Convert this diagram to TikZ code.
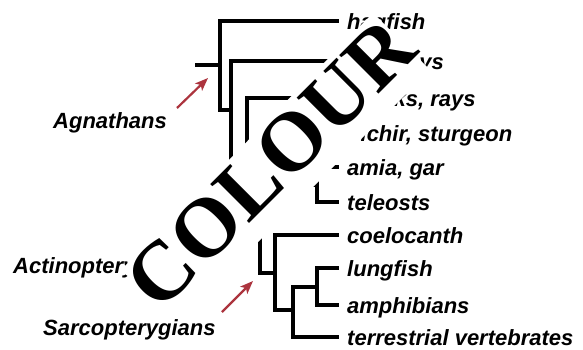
\documentclass[tikz,border=0pt]{standalone}
\usepackage{fontspec}
\newfontfamily\labfont{Liberation Sans}
\newfontfamily\wmfont{Liberation Serif}
\usetikzlibrary{arrows.meta}
\definecolor{arrowred}{RGB}{172,52,62}
\begin{document}
\begin{tikzpicture}[x=1pt,y=-1pt,
  treeline/.style={line width=3.2pt, line join=miter, line cap=rect},
  leaflabel/.style={anchor=base west, inner sep=0pt, font=\labfont\bfseries\itshape\fontsize{22}{26}\selectfont},
  pointer/.style={draw=arrowred, line width=2.2pt, -{Stealth[length=13pt,width=10pt,inset=3pt]}},
  knockout/.style={fill=white, draw=none},
  watermark/.style={anchor=base, rotate=45, inner sep=0pt,
    font=\wmfont\bfseries\fontsize{84}{84}\selectfont}]
\useasboundingbox (0,0) rectangle (583,349);
% leaf tips
\coordinate (hag) at (337,21);
\coordinate (lam) at (337,61);
\coordinate (sha) at (337,98);
\coordinate (bic) at (337,133);
\coordinate (ami) at (337,167);
\coordinate (tel) at (337,202);
\coordinate (coe) at (337,235);
\coordinate (lun) at (337,268);
\coordinate (amp) at (337,305);
\coordinate (ter) at (337,337);
% internal nodes
\coordinate (r0) at (197,65);
\coordinate (n1) at (220,65);
\coordinate (n2) at (231,110);
\coordinate (n3) at (247,159);
\coordinate (n4) at (260,216);
\coordinate (n5) at (300,159);
\coordinate (n6) at (317,185);
\coordinate (n7) at (275,273);
\coordinate (n8) at (293,310);
\coordinate (n9) at (317,287);
% tree
\draw[treeline] (r0) -- (n1);
\draw[treeline] (hag) -| (n1) |- (n2);
\draw[treeline] (lam) -| (n2) |- (n3);
\draw[treeline] (sha) -| (n3) |- (n4);
\draw[treeline] (n5) -| (n4) |- (n7);
\draw[treeline] (bic) -| (n5) |- (n6);
\draw[treeline] (ami) -| (n6) |- (tel);
\draw[treeline] (coe) -| (n7) |- (n8);
\draw[treeline] (n9) -| (n8) |- (ter);
\draw[treeline] (lun) -| (n9) |- (amp);
% leaf labels
\node[leaflabel] (lhag) at (347,29) {hagfish};
\node[leaflabel] (llam) at (347,69) {lampreys};
\node[leaflabel] (lsha) at (347,106) {sharks, rays};
\node[leaflabel] (lbic) at (347,141) {bichir, sturgeon};
\node[leaflabel] (lami) at (347,175) {amia, gar};
\node[leaflabel] (ltel) at (347,210) {teleosts};
\node[leaflabel] (lcoe) at (347,243) {coelocanth};
\node[leaflabel] (llun) at (347,276) {lungfish};
\node[leaflabel] (lamp) at (347,313) {amphibians};
\node[leaflabel] (lter) at (347,345) {terrestrial vertebrates};
% group labels
\node[leaflabel] (agn) at (53,128) {Agnathans};
\node[leaflabel] (act) at (13,273) {Actinopterygians};
\node[leaflabel] (sar) at (43,335) {Sarcopterygians};
% pointers
\coordinate (agtail) at (177,108);
\coordinate (agtip) at (208,78);
\coordinate (satail) at (222,312);
\coordinate (satip) at (253,281);
\draw[pointer] (agtail) -- (agtip);
\draw[pointer] (satail) -- (satip);
% watermark: white knock-out band, then the lettering
\fill[knockout] (121,270) -- (373,13) -- (430,70) -- (183,317) -- (125,274) -- cycle;
\node[watermark] (wmk) at (290,183) {COLOUR};
\end{tikzpicture}
\end{document}
